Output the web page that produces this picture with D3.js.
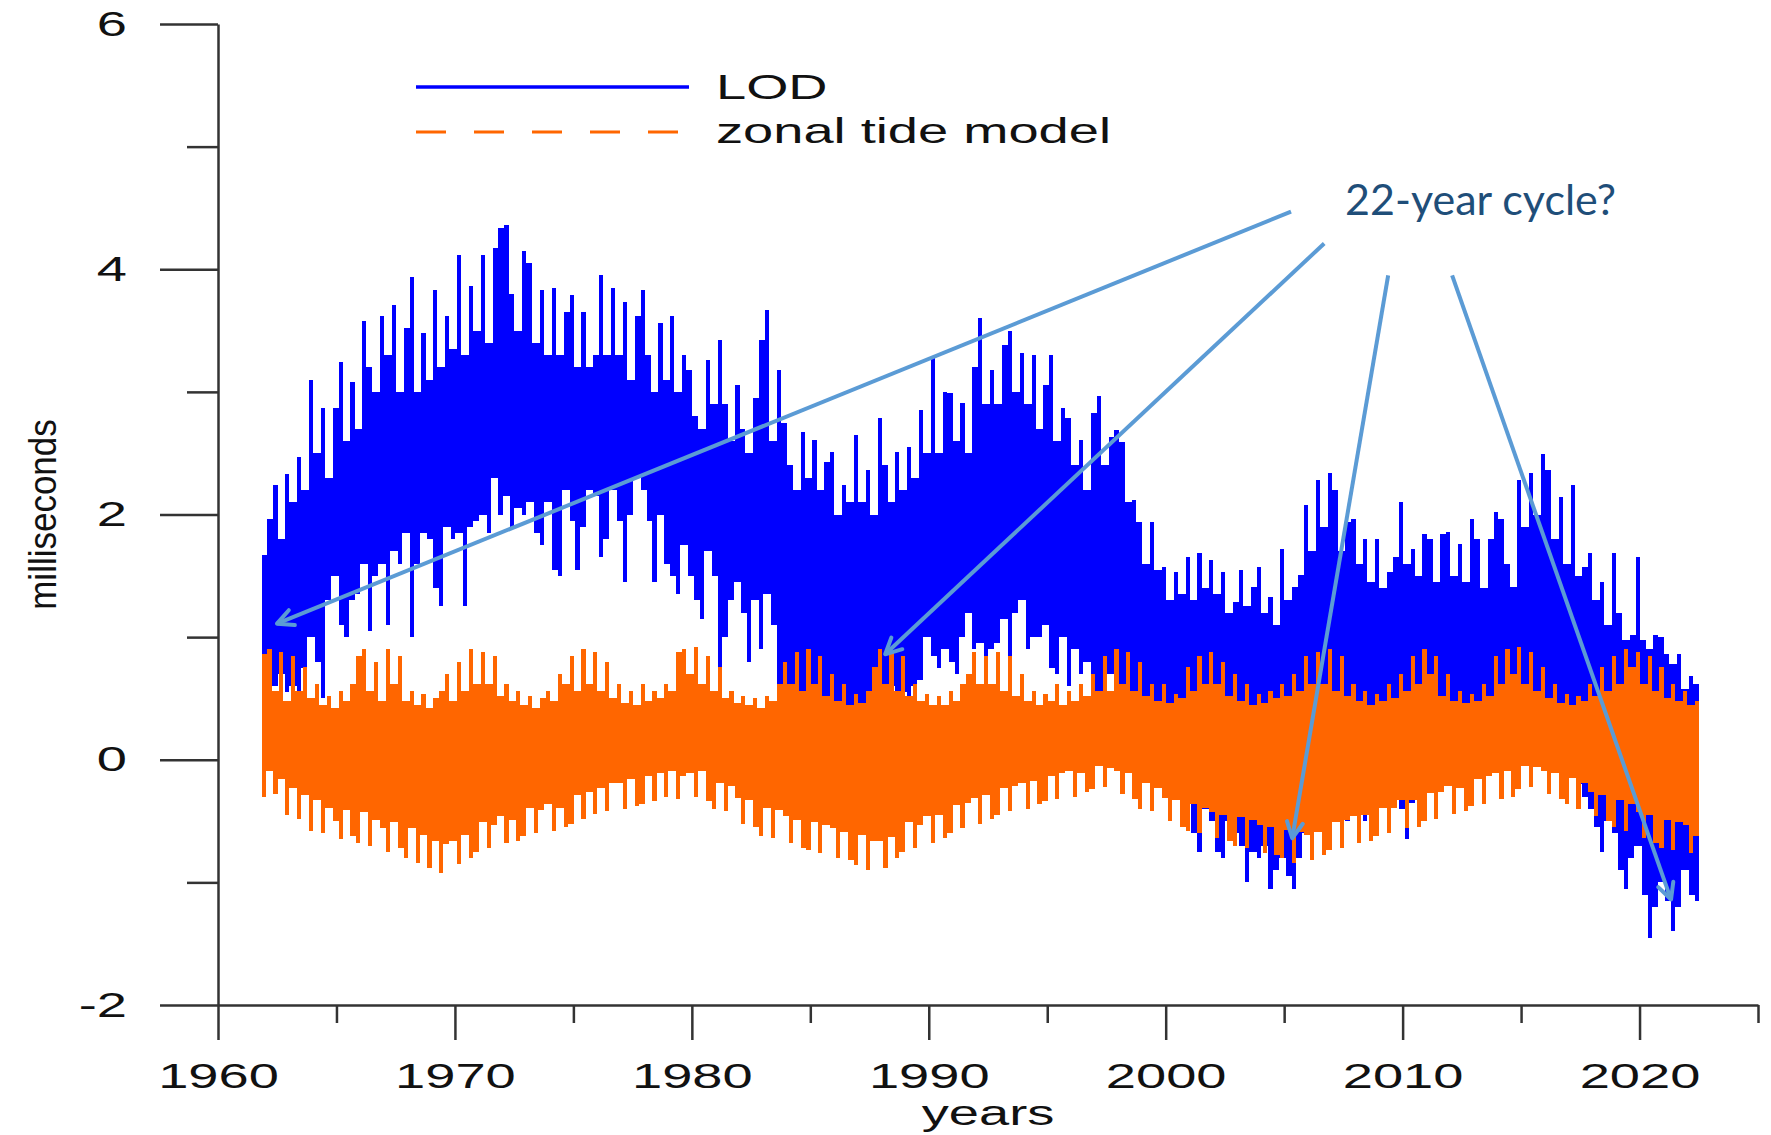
<!DOCTYPE html>
<html>
<head>
<meta charset="utf-8">
<script src="https://cdn.jsdelivr.net/npm/d3@7"></script>
<style>
  html, body { margin: 0; padding: 0; background: #fff; }
  svg { display: block; background: #fff; }
  .axis path, .axis line { stroke: #333; stroke-width: 2.5px; }
  .axis text, .plot-text { font-family: "Liberation Sans", Arial, sans-serif; font-size: 35px; fill: #111; }
  .note { font-family: Lato, "Open Sans", sans-serif; font-size: 43px; fill: #1f4e79; }
</style>
</head>
<body>
<svg id="chart" width="1771" height="1135"></svg>
<script>
// quarter-year bins: top and bottom of each bin
const binStart = 1961.8;
const binStep = 0.25;

const lodHigh = [
  1.67, 1.96, 2.24, 1.8, 2.33, 2.1, 2.47, 2.2,
  3.1, 2.5, 2.87, 2.3, 2.87, 3.24, 2.6, 3.08,
  2.7, 3.58, 3.2, 3.0, 3.62, 3.3, 3.71, 3.0,
  3.52, 3.94, 3.0, 3.48, 3.1, 3.83, 3.2, 3.62,
  3.35, 4.12, 3.3, 3.86, 3.5, 4.12, 3.4, 4.17,
  4.34, 4.36, 3.8, 3.5, 4.15, 4.05, 3.4, 3.83,
  3.3, 3.85, 3.3, 3.65, 3.79, 3.2, 3.65, 3.2,
  3.3, 3.95, 3.3, 3.85, 3.3, 3.73, 3.1, 3.62,
  3.83, 3.3, 3.0, 3.56, 3.1, 3.62, 3.0, 3.3,
  3.18, 2.8, 2.7, 3.26, 2.9, 3.42, 2.9, 2.6,
  3.06, 2.7, 2.5, 2.95, 3.42, 3.67, 2.6, 3.18,
  2.75, 2.4, 2.2, 2.67, 2.3, 2.61, 2.2, 2.43,
  2.51, 2.0, 2.24, 2.1, 2.65, 2.1, 2.36, 2.0,
  2.79, 2.4, 2.1, 2.51, 2.2, 2.55, 2.3, 2.85,
  2.5, 3.28, 2.5, 3.0, 2.99, 2.6, 2.91, 2.5,
  3.2, 3.6, 2.9, 3.18, 2.9, 3.38, 3.5, 3.0,
  3.32, 2.9, 3.3, 2.7, 3.06, 3.3, 2.6, 2.87,
  2.79, 2.4, 2.61, 2.2, 2.83, 2.97, 2.4, 2.63,
  2.69, 2.59, 2.1, 2.12, 1.94, 1.6, 1.94, 1.55,
  1.57, 1.3, 1.53, 1.35, 1.65, 1.3, 1.69, 1.4,
  1.63, 1.35, 1.53, 1.2, 1.29, 1.55, 1.25, 1.41,
  1.57, 1.2, 1.33, 1.1, 1.72, 1.3, 1.41, 1.51,
  2.08, 1.7, 2.28, 1.9, 2.34, 2.2, 1.7, 1.94,
  1.96, 1.6, 1.8, 1.45, 1.8, 1.4, 1.53, 1.65,
  2.1, 1.6, 1.72, 1.5, 1.84, 1.8, 1.45, 1.84,
  1.86, 1.5, 1.76, 1.45, 1.96, 1.8, 1.4, 1.8,
  2.02, 1.96, 1.6, 1.41, 2.28, 1.9, 2.34, 2.0,
  2.49, 2.36, 1.8, 2.14, 1.6, 2.24, 1.5, 1.57,
  1.69, 1.3, 1.45, 1.1, 1.69, 1.2, 0.98, 1.02,
  1.65, 0.98, 0.9, 1.02, 1.0, 0.86, 0.78, 0.86,
  0.58, 0.68, 0.62
];

const lodLow = [
  0.6, 0.55, 0.6, 0.7, 0.55, 0.6, 0.5, 0.75,
  1.0, 0.8, 0.5, 1.3, 1.5, 1.1, 1.0, 1.3,
  1.35, 1.6, 1.05, 1.5, 1.6, 1.1, 1.7, 1.6,
  1.85, 1.0, 1.6, 1.85, 1.8, 1.4, 1.25, 1.9,
  1.8, 1.85, 1.25, 1.9, 1.95, 2.0, 1.85, 2.3,
  2.0, 2.15, 1.9, 2.05, 2.0, 2.1, 1.85, 1.75,
  2.1, 1.55, 1.5, 2.2, 1.95, 1.55, 1.9, 2.2,
  2.15, 1.65, 1.8, 2.2, 1.95, 1.45, 2.0, 2.3,
  2.2, 1.95, 1.45, 2.0, 1.6, 1.5, 1.35, 1.75,
  1.5, 1.3, 1.15, 1.7, 1.5, 0.7, 1.0, 1.3,
  1.45, 1.2, 0.8, 1.3, 0.9, 1.35, 1.1, 0.6,
  0.5, 0.0, 0.5, 0.3, 0.5, 0.3, 0.45, 0.35,
  0.2, 0.45, 0.3, 0.2, 0.45, 0.2, 0.4, 0.5,
  0.55, 0.1, 0.6, 0.4, 0.55, 0.3, 0.6, 0.65,
  1.0, 0.85, 0.75, 0.9, 0.8, 0.7, 1.0, 1.2,
  0.9, 0.95, 0.8, 0.9, 0.95, 1.15, 0.85, 1.2,
  1.3, 0.9, 1.0, 1.0, 1.1, 0.75, 0.7, 1.0,
  0.6, 0.9, 0.7, 0.8, 0.45, 0.4, 0.5, 0.7,
  0.55, 0.5, 0.3, 0.3, 0.2, 0.1, 0.0, -0.1,
  -0.2, -0.1, -0.3, -0.2, -0.3, -0.6, -0.75, -0.4,
  -0.5, -0.75, -0.8, -0.5, -0.6, -0.7, -1.0, -0.75,
  -0.8, -0.7, -1.05, -0.9, -0.8, -0.95, -1.05, -0.8,
  -0.6, -0.7, -0.5, -0.6, -0.55, -0.5, -0.45, -0.5,
  -0.4, -0.45, -0.5, -0.35, -0.4, -0.3, -0.35, -0.3,
  -0.4, -0.65, -0.35, -0.2, -0.25, -0.1, -0.15, 0.0,
  -0.05, 0.05, 0.1, 0.0, 0.1, 0.15, 0.1, 0.2,
  0.15, 0.2, 0.25, 0.2, 0.25, 0.2, 0.3, 0.25,
  0.3, 0.2, 0.1, 0.15, 0.0, -0.1, -0.2, -0.3,
  -0.4, -0.55, -0.75, -0.5, -0.6, -0.9, -1.05, -0.8,
  -0.7, -1.1, -1.45, -1.2, -1.0, -1.15, -1.4, -1.2,
  -0.9, -1.1, -1.15
];

const tideHigh = [
  0.86, 0.9, 0.56, 0.88, 0.48, 0.85, 0.56, 0.76,
  0.5, 0.62, 0.45, 0.52, 0.42, 0.56, 0.48, 0.62,
  0.85, 0.9, 0.56, 0.8, 0.48, 0.9, 0.62, 0.85,
  0.48, 0.56, 0.45, 0.54, 0.42, 0.5, 0.56, 0.7,
  0.48, 0.8, 0.56, 0.9, 0.62, 0.88, 0.62, 0.85,
  0.52, 0.62, 0.48, 0.56, 0.45, 0.52, 0.42, 0.5,
  0.56, 0.48, 0.7, 0.62, 0.85, 0.56, 0.9, 0.62,
  0.88, 0.56, 0.8, 0.5, 0.62, 0.46, 0.56, 0.45,
  0.62, 0.48, 0.56, 0.5, 0.62, 0.56, 0.88, 0.9,
  0.7, 0.92, 0.62, 0.85, 0.56, 0.76, 0.5, 0.56,
  0.46, 0.52, 0.45, 0.5, 0.42, 0.52, 0.48, 0.62,
  0.8, 0.62, 0.88, 0.56, 0.9, 0.62, 0.85, 0.52,
  0.7, 0.48, 0.62, 0.45, 0.54, 0.46, 0.56, 0.76,
  0.9, 0.62, 0.88, 0.56, 0.85, 0.52, 0.62, 0.48,
  0.54, 0.45, 0.52, 0.45, 0.56, 0.48, 0.62, 0.7,
  0.88, 0.62, 0.85, 0.62, 0.88, 0.56, 0.85, 0.52,
  0.7, 0.48, 0.56, 0.45, 0.54, 0.48, 0.62, 0.45,
  0.56, 0.48, 0.62, 0.52, 0.7, 0.56, 0.85, 0.56,
  0.9, 0.62, 0.88, 0.56, 0.8, 0.52, 0.62, 0.48,
  0.62, 0.46, 0.54, 0.5, 0.76, 0.56, 0.85, 0.62,
  0.88, 0.62, 0.8, 0.52, 0.7, 0.48, 0.62, 0.45,
  0.54, 0.46, 0.56, 0.5, 0.62, 0.52, 0.7, 0.56,
  0.85, 0.62, 0.88, 0.62, 0.9, 0.56, 0.85, 0.52,
  0.62, 0.48, 0.56, 0.45, 0.54, 0.48, 0.62, 0.5,
  0.7, 0.56, 0.85, 0.62, 0.9, 0.7, 0.85, 0.52,
  0.7, 0.48, 0.56, 0.46, 0.54, 0.48, 0.62, 0.52,
  0.85, 0.62, 0.9, 0.7, 0.92, 0.62, 0.88, 0.56,
  0.76, 0.5, 0.62, 0.46, 0.54, 0.45, 0.52, 0.48,
  0.62, 0.52, 0.76, 0.56, 0.85, 0.62, 0.9, 0.76,
  0.88, 0.62, 0.85, 0.56, 0.76, 0.5, 0.62, 0.48,
  0.56, 0.45, 0.48
];

const tideLow = [
  -0.3, -0.09, -0.28, -0.16, -0.45, -0.23, -0.48, -0.29,
  -0.58, -0.33, -0.6, -0.39, -0.5, -0.65, -0.41, -0.62,
  -0.68, -0.43, -0.7, -0.49, -0.56, -0.75, -0.51, -0.72,
  -0.8, -0.56, -0.84, -0.61, -0.88, -0.66, -0.92, -0.69,
  -0.66, -0.85, -0.61, -0.8, -0.75, -0.51, -0.72, -0.53,
  -0.46, -0.68, -0.49, -0.66, -0.62, -0.39, -0.6, -0.41,
  -0.36, -0.58, -0.39, -0.55, -0.52, -0.29, -0.48, -0.26,
  -0.44, -0.23, -0.42, -0.19, -0.19, -0.4, -0.16, -0.38,
  -0.36, -0.13, -0.34, -0.11, -0.3, -0.09, -0.32, -0.13,
  -0.11, -0.3, -0.09, -0.34, -0.4, -0.19, -0.42, -0.21,
  -0.31, -0.52, -0.33, -0.55, -0.62, -0.39, -0.64, -0.41,
  -0.46, -0.68, -0.49, -0.72, -0.74, -0.51, -0.76, -0.53,
  -0.56, -0.8, -0.59, -0.82, -0.86, -0.61, -0.9, -0.66,
  -0.66, -0.88, -0.63, -0.8, -0.75, -0.51, -0.72, -0.53,
  -0.46, -0.68, -0.45, -0.64, -0.6, -0.37, -0.56, -0.35,
  -0.31, -0.52, -0.29, -0.48, -0.45, -0.23, -0.42, -0.21,
  -0.19, -0.4, -0.17, -0.36, -0.34, -0.13, -0.32, -0.11,
  -0.09, -0.3, -0.11, -0.26, -0.24, -0.05, -0.22, -0.07,
  -0.09, -0.28, -0.11, -0.32, -0.4, -0.19, -0.42, -0.23,
  -0.31, -0.5, -0.33, -0.55, -0.58, -0.36, -0.6, -0.39,
  -0.43, -0.64, -0.45, -0.66, -0.7, -0.47, -0.72, -0.49,
  -0.53, -0.76, -0.55, -0.78, -0.8, -0.57, -0.84, -0.59,
  -0.61, -0.82, -0.59, -0.78, -0.74, -0.51, -0.72, -0.49,
  -0.46, -0.68, -0.45, -0.66, -0.62, -0.39, -0.6, -0.39,
  -0.33, -0.56, -0.33, -0.55, -0.5, -0.27, -0.48, -0.26,
  -0.21, -0.44, -0.23, -0.42, -0.38, -0.16, -0.36, -0.13,
  -0.11, -0.32, -0.09, -0.3, -0.24, -0.05, -0.22, -0.06,
  -0.09, -0.28, -0.11, -0.32, -0.36, -0.15, -0.4, -0.19,
  -0.26, -0.46, -0.29, -0.5, -0.55, -0.33, -0.58, -0.36,
  -0.43, -0.64, -0.45, -0.68, -0.72, -0.49, -0.74, -0.51,
  -0.53, -0.76, -0.62
];

const xMajorTicks = [1960, 1970, 1980, 1990, 2000, 2010, 2020];
const xMinorTicks = [1965, 1975, 1985, 1995, 2005, 2015, 2025];
const yMajorTicks = [-2, 0, 2, 4, 6];
const yMinorTicks = [-1, 1, 3, 5];

const legendItems = ["LOD", "zonal tide model"];
const noteText = "22-year cycle?";
// arrows of the note, [year, ms] at the tail and at the head
const noteArrows = [
  [[2005.29, 4.47], [1962.49, 1.11]],
  [[2006.69, 4.21], [1988.16, 0.86]],
  [[2009.39, 3.95], [2005.34, -0.64]],
  [[2012.09, 3.95], [2021.33, -1.14]]
];

const blue = "#0000ff";
const orange = "#ff6600";
const sx = 1.55; // the original plot text is stretched sideways

const svg = d3.select("#chart");

const x = d3.scaleLinear().domain([1960, 2025]).range([218, 1758]);
const y = d3.scaleLinear().domain([-2, 6]).range([1005, 24]);

function binData(hi, lo) {
  return hi.map((h, i) => ({ t: binStart + i * binStep, hi: h, lo: lo[i] }));
}

// each bin is a thin spike, and the part a bin shares with the next one is filled solid
function drawSeries(cls, hi, lo, color) {
  const bins = binData(hi, lo);
  const g = svg.append("g").attr("class", cls).attr("shape-rendering", "crispEdges");
  const spike = 0.7;

  const shared = bins.slice(0, -1).map((d, i) => {
    const n = bins[i + 1];
    return { t: d.t + binStep / 2, top: Math.min(d.hi, n.hi), bottom: Math.max(d.lo, n.lo) };
  }).filter(d => d.top > d.bottom);

  g.selectAll("rect.shared")
    .data(shared)
    .join("rect")
      .attr("class", "shared")
      .attr("x", d => x(d.t))
      .attr("width", d => x(d.t + binStep) - x(d.t))
      .attr("y", d => y(d.top))
      .attr("height", d => y(d.bottom) - y(d.top))
      .attr("fill", color);

  g.selectAll("rect.spike")
    .data(bins)
    .join("rect")
      .attr("class", "spike")
      .attr("x", d => x(d.t + binStep * (1 - spike) / 2))
      .attr("width", d => x(d.t + binStep * spike) - x(d.t))
      .attr("y", d => y(d.hi))
      .attr("height", d => Math.max(2, y(d.lo) - y(d.hi)))
      .attr("fill", color);
}

drawSeries("lod", lodHigh, lodLow, blue);
drawSeries("tide", tideHigh, tideLow, orange);

// axes, major and minor ticks
const gx = svg.append("g").attr("class", "axis").attr("transform", `translate(0,${y(-2)})`);
gx.call(d3.axisBottom(x).tickValues(xMajorTicks).tickSize(35).tickPadding(23)
    .tickSizeOuter(0).tickFormat(d => String(d)));
gx.selectAll("text").attr("transform", `scale(${sx},1)`);
svg.append("g").attr("class", "axis").attr("transform", `translate(0,${y(-2)})`)
  .call(d3.axisBottom(x).tickValues(xMinorTicks).tickSize(18).tickFormat(""))
  .call(g => g.select(".domain").remove());

const gy = svg.append("g").attr("class", "axis").attr("transform", `translate(${x(1960)},0)`);
gy.call(d3.axisLeft(y).tickValues(yMajorTicks).tickSize(58).tickSizeOuter(0)
    .tickFormat(d => String(d)));
gy.selectAll("text")
  .attr("x", -(58 + 33) / sx)
  .attr("transform", `scale(${sx},1)`);
svg.append("g").attr("class", "axis").attr("transform", `translate(${x(1960)},0)`)
  .call(d3.axisLeft(y).tickValues(yMinorTicks).tickSize(31).tickFormat(""))
  .call(g => g.select(".domain").remove());

svg.selectAll(".axis text").attr("fill", "#111");

// axis titles
svg.append("text")
  .attr("class", "plot-text")
  .attr("text-anchor", "middle")
  .attr("transform", `translate(${x(1992.5)},1125) scale(${sx},1)`)
  .text("years");

svg.append("text")
  .attr("class", "plot-text")
  .attr("text-anchor", "middle")
  .attr("transform", `translate(56,${y(2)}) scale(1.1,1) rotate(-90)`)
  .text("milliseconds");

// legend
const legend = svg.append("g");
legend.append("line")
  .attr("x1", 416).attr("x2", 689).attr("y1", 87).attr("y2", 87)
  .attr("stroke", blue).attr("stroke-width", 3.5);
legend.append("line")
  .attr("x1", 416).attr("x2", 689).attr("y1", 132).attr("y2", 132)
  .attr("stroke", orange).attr("stroke-width", 3)
  .attr("stroke-dasharray", "30,28");
legend.selectAll("text")
  .data(legendItems)
  .join("text")
    .attr("class", "plot-text")
    .attr("transform", (d, i) => `translate(716,${99 + i * 44}) scale(${sx},1)`)
    .text(d => d);

// the note with its arrows
svg.append("defs").append("marker")
  .attr("id", "head")
  .attr("viewBox", "0 0 24 24")
  .attr("refX", 21).attr("refY", 12)
  .attr("markerWidth", 24).attr("markerHeight", 24)
  .attr("markerUnits", "userSpaceOnUse")
  .attr("orient", "auto")
  .append("path")
    .attr("d", "M5,4 L21,12 L5,20")
    .attr("fill", "none")
    .attr("stroke", "#5b9bd5")
    .attr("stroke-width", 4)
    .attr("stroke-linecap", "round")
    .attr("stroke-linejoin", "round");

svg.append("g")
  .selectAll("line")
  .data(noteArrows)
  .join("line")
    .attr("x1", d => x(d[0][0])).attr("y1", d => y(d[0][1]))
    .attr("x2", d => x(d[1][0])).attr("y2", d => y(d[1][1]))
    .attr("stroke", "#5b9bd5")
    .attr("stroke-width", 4)
    .attr("marker-end", "url(#head)");

svg.append("text")
  .attr("class", "note")
  .attr("x", x(2007.57))
  .attr("y", y(4.44))
  .text(noteText);
</script>
</body>
</html>
